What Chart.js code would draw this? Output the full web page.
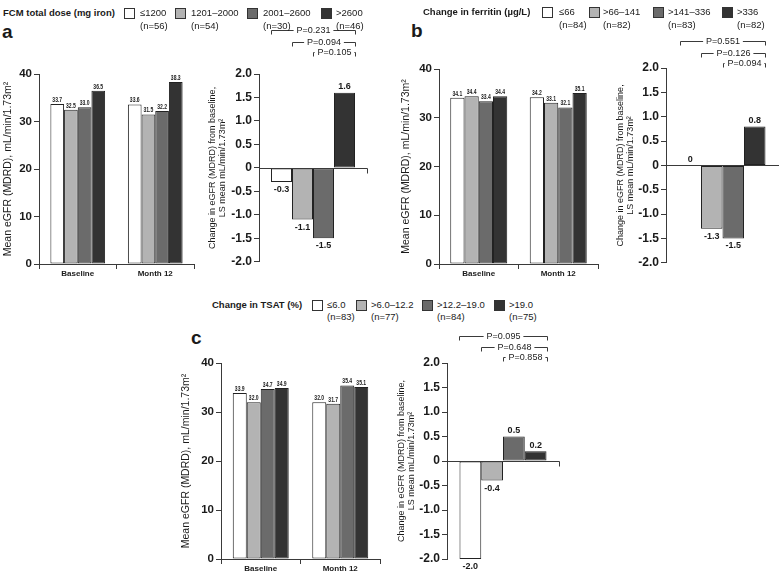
<!DOCTYPE html>
<html>
<head>
<meta charset="utf-8">
<script src="https://cdn.jsdelivr.net/npm/chart.js@4.4.1/dist/chart.umd.min.js"></script>
<style>
  html, body { margin: 0; padding: 0; background: #fff; }
  body { width: 779px; height: 571px; overflow: hidden; position: relative; font-family: "Liberation Sans", Arial, sans-serif; color: #1a1a1a; }
  .wrap { position: absolute; }
  .legend-title { position: absolute; font-weight: bold; font-size: 9.5px; line-height: 9.5px; white-space: nowrap; }
  .swatch { position: absolute; width: 9px; height: 9px; border: 1px solid #333; }
  .ltext { position: absolute; font-size: 9.5px; line-height: 9.5px; white-space: nowrap; }
  .letter { position: absolute; font-weight: bold; font-size: 19px; line-height: 19px; }
</style>
</head>
<body>

<div class="letter" style="left:2px; top:22px;">a</div>
<div class="letter" style="left:411px; top:21px;">b</div>
<div class="letter" style="left:191px; top:328px;">c</div>

<div class="wrap" style="left:0px; top:64px; width:198px; height:216px;"><canvas id="doseLevel"></canvas></div>
<div class="wrap" style="left:204px; top:20px; width:167px; height:251px;"><canvas id="doseChange"></canvas></div>
<div class="wrap" style="left:398px; top:59px; width:204px; height:221px;"><canvas id="ferritinLevel"></canvas></div>
<div class="wrap" style="left:612px; top:34px; width:167px; height:238px;"><canvas id="ferritinChange"></canvas></div>
<div class="wrap" style="left:178px; top:353px; width:206px; height:222px;"><canvas id="tsatLevel"></canvas></div>
<div class="wrap" style="left:393px; top:328px; width:170px; height:243px;"><canvas id="tsatChange"></canvas></div>

<script>
// Shared categories / groups
const timepoints = ['Baseline', 'Month 12'];
const groupColors = ['#ffffff', '#b3b3b3', '#6b6b6b', '#333333'];

// a: FCM total dose
const doseGroups = ['\u22641200', '1201\u20132000', '2001\u20132600', '>2600'];
const doseN = [56, 54, 30, 46];
const doseBaseline = [33.7, 32.5, 33.0, 36.5];
const doseMonth12 = [33.6, 31.5, 32.2, 38.3];
const doseChangeVals = [-0.3, -1.1, -1.5, 1.6];
const doseP = ['P=0.231', 'P=0.094', 'P=0.105'];

// b: change in ferritin
const ferritinGroups = ['\u226466', '>66\u2013141', '>141\u2013336', '>336'];
const ferritinN = [84, 82, 83, 82];
const ferritinBaseline = [34.1, 34.4, 33.4, 34.4];
const ferritinMonth12 = [34.2, 33.1, 32.1, 35.1];
const ferritinChangeVals = [0, -1.3, -1.5, 0.8];
const ferritinP = ['P=0.551', 'P=0.126', 'P=0.094'];

// c: change in TSAT
const tsatGroups = ['\u22646.0', '>6.0\u201312.2', '>12.2\u201319.0', '>19.0'];
const tsatN = [83, 77, 84, 75];
const tsatBaseline = [33.9, 32.0, 34.7, 34.9];
const tsatMonth12 = [32.0, 31.7, 35.4, 35.1];
const tsatChangeVals = [-2.0, -0.4, 0.5, 0.2];
const tsatP = ['P=0.095', 'P=0.648', 'P=0.858'];

const levelTicks = { min: 0, max: 40, step: 10 };
const changeTicks = { min: -2, max: 2, step: 0.5 };

const levelTitle = 'Mean eGFR (MDRD), mL/min/1.73m\u00b2';
const changeTitle = ['Change in eGFR (MDRD) from baseline,', 'LS mean mL/min/1.73m\u00b2'];

const FONT = '"Liberation Sans", Arial, sans-serif';
const axisColor = '#3a3a3a';
const textColor = '#1a1a1a';

Chart.defaults.font.family = FONT;
Chart.defaults.color = textColor;

function fmt(v) {
    return v === 0 ? '0' : v.toFixed(1);
}

// Legend rows (HTML)
function buildLegend(title, groups, counts, pos) {
    const add = (cls, left, top, text, bg) => {
        const el = document.createElement('div');
        el.className = cls;
        el.style.left = left + 'px';
        el.style.top = top + 'px';
        if (text !== null) el.textContent = text;
        if (bg) el.style.background = bg;
        document.body.appendChild(el);
    };
    add('legend-title', pos.titleX, pos.row1 - 4.6, title);
    groups.forEach((g, i) => {
        add('swatch', pos.boxX[i], pos.row1 - 5, null, groupColors[i]);
        add('ltext', pos.textX[i], pos.row1 - 4.6, g);
        add('ltext', pos.textX[i], pos.row2 - 4.6, '(n=' + counts[i] + ')');
    });
}

// Value labels above / below each bar
const valueLabels = {
    id: 'valueLabels',
    afterDatasetsDraw(chart, args, opts) {
        const ctx = chart.ctx;
        ctx.save();
        ctx.font = opts.font;
        ctx.fillStyle = textColor;
        ctx.textAlign = 'center';
        ctx.textBaseline = 'middle';
        chart.data.datasets.forEach((ds, i) => {
            chart.getDatasetMeta(i).data.forEach((bar, j) => {
                const v = ds.data[j];
                const y = v >= 0 ? bar.y - opts.above : bar.y + opts.below;
                ctx.save();
                ctx.translate(bar.x, y);
                ctx.scale(opts.squeeze, 1);
                ctx.fillText(fmt(v), 0, 0);
                ctx.restore();
            });
        });
        ctx.restore();
    }
};

// Zero line for change charts
const zeroLine = {
    id: 'zeroLine',
    afterDatasetsDraw(chart, args, opts) {
        if (!opts.show) return;
        const ctx = chart.ctx;
        const area = chart.chartArea;
        const y0 = Math.round(chart.scales.y.getPixelForValue(0)) + 0.5;
        ctx.save();
        ctx.strokeStyle = axisColor;
        ctx.lineWidth = 1;
        ctx.beginPath();
        ctx.moveTo(area.left, y0);
        ctx.lineTo(Math.round(area.right) + 0.5, y0);
        ctx.lineTo(Math.round(area.right) + 0.5, y0 + 5);
        ctx.stroke();
        ctx.restore();
    }
};

// P-value brackets above change charts
const pBrackets = {
    id: 'pBrackets',
    afterDraw(chart, args, opts) {
        if (!opts.labels) return;
        const ctx = chart.ctx;
        const bars = chart.data.datasets.map((d, i) => chart.getDatasetMeta(i).data[0]);
        const last = bars[bars.length - 1];
        const right = Math.round(last.x + last.width / 2) + 0.5;
        ctx.save();
        ctx.font = '9px ' + FONT;
        ctx.fillStyle = textColor;
        ctx.strokeStyle = axisColor;
        ctx.lineWidth = 1;
        ctx.textAlign = 'center';
        ctx.textBaseline = 'middle';
        opts.labels.forEach((txt, k) => {
            const b = bars[k];
            const left = Math.round(b.x - b.width / 2) + 0.5;
            const y = Math.round(chart.chartArea.top - opts.offsets[k]) + 0.5;
            const w = ctx.measureText(txt).width;
            const mid = (left + right) / 2;
            ctx.beginPath();
            ctx.moveTo(left, y + 4);
            ctx.lineTo(left, y);
            ctx.lineTo(mid - w / 2 - 3, y);
            ctx.moveTo(mid + w / 2 + 3, y);
            ctx.lineTo(right, y);
            ctx.lineTo(right, y + 4);
            ctx.stroke();
            ctx.fillText(txt, mid, y);
        });
        ctx.restore();
    }
};

function levelChart(id, baseline, month12, catPct, yWidth) {
    return new Chart(document.getElementById(id), {
        type: 'bar',
        data: {
            labels: timepoints,
            datasets: groupColors.map((c, i) => ({
                data: [baseline[i], month12[i]],
                backgroundColor: c,
                borderColor: '#222',
                borderWidth: 1,
                borderSkipped: false,
                barPercentage: 1,
                categoryPercentage: catPct
            }))
        },
        options: {
            responsive: true,
            maintainAspectRatio: false,
            animation: false,
            events: [],
            layout: { padding: { top: 10, right: 4, bottom: 0, left: 0 } },
            plugins: {
                legend: { display: false },
                tooltip: { enabled: false },
                valueLabels: { font: 'bold 7px ' + FONT, above: 4, below: 6, squeeze: 0.72 }
            },
            scales: {
                x: {
                    grid: { offset: true, drawOnChartArea: false, tickLength: 5, color: axisColor },
                    border: { color: axisColor },
                    ticks: { padding: 0, font: { size: 8, weight: 'bold' }, color: textColor },
                    afterFit: s => { s.height = 16; }
                },
                y: {
                    min: levelTicks.min,
                    max: levelTicks.max,
                    ticks: { stepSize: levelTicks.step, padding: 2, font: { size: 11.5, weight: 'bold' }, color: textColor },
                    grid: { drawOnChartArea: false, tickLength: 5, color: axisColor },
                    border: { color: axisColor },
                    title: { display: true, text: levelTitle, font: { size: 10.5 }, padding: { top: 2, bottom: 0 }, color: textColor },
                    afterFit: s => { s.width = yWidth; }
                }
            }
        },
        plugins: [valueLabels]
    });
}

function changeChart(id, change, pvals, catPct, yWidth, pad, offsets) {
    return new Chart(document.getElementById(id), {
        type: 'bar',
        data: {
            labels: [''],
            datasets: groupColors.map((c, i) => ({
                data: [change[i]],
                backgroundColor: c,
                borderColor: '#222',
                borderWidth: 1,
                borderSkipped: false,
                barPercentage: 1,
                categoryPercentage: catPct
            }))
        },
        options: {
            responsive: true,
            maintainAspectRatio: false,
            animation: false,
            events: [],
            layout: { padding: pad },
            plugins: {
                legend: { display: false },
                tooltip: { enabled: false },
                valueLabels: { font: 'bold 9px ' + FONT, above: 6, below: 7.5, squeeze: 1 },
                zeroLine: { show: true },
                pBrackets: { labels: pvals, offsets: offsets }
            },
            scales: {
                x: { display: false },
                y: {
                    min: changeTicks.min,
                    max: changeTicks.max,
                    ticks: { stepSize: changeTicks.step, padding: 2, font: { size: 12, weight: 'bold' }, color: textColor, callback: v => fmt(v) },
                    grid: { drawOnChartArea: false, tickLength: 5, color: axisColor },
                    border: { color: axisColor },
                    title: { display: true, text: changeTitle, font: { size: 9, lineHeight: 1.08 }, padding: { top: 4, bottom: 0 }, color: textColor },
                    afterFit: s => { s.width = yWidth; }
                }
            }
        },
        plugins: [valueLabels, zeroLine, pBrackets]
    });
}

document.addEventListener('DOMContentLoaded', function() {
    buildLegend('FCM total dose (mg iron)', doseGroups, doseN,
        { titleX: 3, row1: 12.5, row2: 25.5, boxX: [124, 175, 247, 321], textX: [140, 191, 263, 336] });
    buildLegend('Change in ferritin (\u00b5g/L)', ferritinGroups, ferritinN,
        { titleX: 423, row1: 12, row2: 24.5, boxX: [542, 589, 653, 722], textX: [559, 603, 668, 737] });
    buildLegend('Change in TSAT (%)', tsatGroups, tsatN,
        { titleX: 212, row1: 305, row2: 317, boxX: [312, 356, 422, 494], textX: [327, 371, 437, 509] });

    levelChart('doseLevel', doseBaseline, doseMonth12, 0.706, 39);
    changeChart('doseChange', doseChangeVals, doseP, 0.778, 55, { top: 54, right: 4, bottom: 8, left: 0 }, [44, 32, 22]);

    levelChart('ferritinLevel', ferritinBaseline, ferritinMonth12, 0.717, 41);
    changeChart('ferritinChange', ferritinChangeVals, ferritinP, 0.761, 54, { top: 34, right: 0, bottom: 8, left: 0 }, [27, 15, 5]);

    levelChart('tsatLevel', tsatBaseline, tsatMonth12, 0.704, 43);
    changeChart('tsatChange', tsatChangeVals, tsatP, 0.777, 54, { top: 35, right: 4, bottom: 12, left: 0 }, [27, 16, 6]);
});
</script>
</body>
</html>
